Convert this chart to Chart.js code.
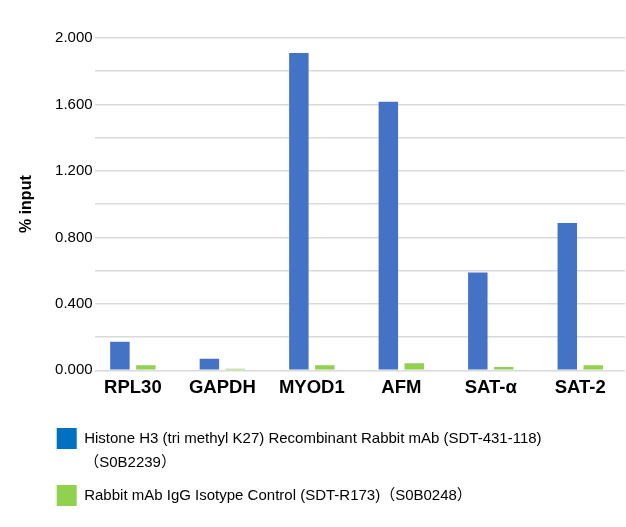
<!DOCTYPE html>
<html>
<head>
<meta charset="utf-8">
<script src="https://cdn.jsdelivr.net/npm/chart.js@4/dist/chart.umd.min.js"></script>
<style>
  html, body { margin: 0; padding: 0; background: #fff; }
  #wrap { width: 626px; height: 527px; position: relative; }
</style>
</head>
<body>
<div id="wrap"><canvas id="chip-chart"></canvas></div>
<script>
// ChIP-qPCR, % input per locus
const categories = ['RPL30', 'GAPDH', 'MYOD1', 'AFM', 'SAT-α', 'SAT-2'];
const histoneValues = [0.172, 0.070, 1.909, 1.616, 0.589, 0.887];
const iggValues = [0.030, 0.010, 0.030, 0.042, 0.020, 0.030];
const seriesLabels = [
  ['Histone H3 (tri methyl K27) Recombinant Rabbit mAb (SDT-431-118)', '（S0B2239）'],
  'Rabbit mAb IgG Isotype Control (SDT-R173)（S0B0248）'
];
const yTicks = [0, 0.2, 0.4, 0.6, 0.8, 1.0, 1.2, 1.4, 1.6, 1.8, 2.0];

const barColors = ['#4472C4', '#92D050'];
const legendColors = ['#0070C0', '#92D050'];

Chart.defaults.font.family = "'Liberation Sans', Arial, 'Noto Sans CJK JP', sans-serif";
Chart.defaults.color = '#000';

const toPoints = vals => vals.map((v, i) => ({ x: i, y: v }));

new Chart(document.getElementById('chip-chart'), {
  type: 'bar',
  data: {
    datasets: [
      { label: 'Histone H3', data: toPoints(histoneValues), backgroundColor: barColors[0], borderWidth: 0 },
      { label: 'IgG', data: toPoints(iggValues), backgroundColor: barColors[1], borderWidth: 0 }
    ]
  },
  options: {
    responsive: true, maintainAspectRatio: false,
    animation: false,
    categoryPercentage: 0.58,
    barPercentage: 0.75,
    layout: { padding: { left: 20.7, top: 38, right: 1, bottom: 11 } },
    plugins: {
      tooltip: { enabled: false },
      legend: {
        position: 'bottom',
        align: 'start',
        // empty title only used to pull the rows up a little
        title: { display: true, text: '', font: { size: 1, lineHeight: 1 }, padding: { top: -4.3, bottom: 0 } },
        labels: {
          boxWidth: 20, boxHeight: 21, padding: 36,
          font: { size: 15, lineHeight: 1.6 },
          color: '#000',
          generateLabels: chart => chart.data.datasets.map((ds, i) => ({
            text: seriesLabels[i],
            fillStyle: legendColors[i],
            strokeStyle: legendColors[i],
            lineWidth: 0,
            datasetIndex: i,
            hidden: false
          }))
        }
      }
    },
    scales: {
      x: {
        type: 'linear',
        min: -0.4275, max: 5.5,
        offset: false,
        grid: { display: false, offset: false },
        border: { display: false },
        afterBuildTicks: scale => { scale.ticks = categories.map((_, i) => ({ value: i })); },
        afterFit: scale => { scale.height = 25; },
        ticks: {
          autoSkip: false, maxRotation: 0, padding: 4.4,
          font: { size: 18.5, weight: 'bold', lineHeight: 0.6 },
          color: '#000',
          callback: v => categories[v]
        }
      },
      y: {
        min: 0, max: 2,
        afterBuildTicks: scale => { scale.ticks = yTicks.map(v => ({ value: v })); },
        border: { display: false },
        grid: { color: '#d9d9d9', lineWidth: 1.5, drawTicks: false },
        ticks: {
          padding: 2,
          font: { size: 15 },
          color: '#000',
          callback: (v, i) => i % 2 === 0 ? v.toFixed(3) : ''
        },
        title: {
          display: true,
          text: '% input',
          font: { size: 16, weight: 'bold' },
          color: '#000',
          padding: { top: -3.3, bottom: 16.5 }
        }
      }
    }
  }
});
</script>
</body>
</html>
